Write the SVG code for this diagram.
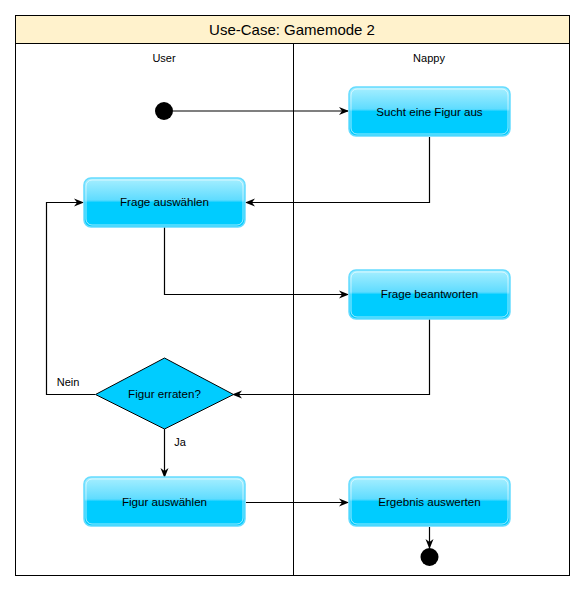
<svg xmlns="http://www.w3.org/2000/svg" width="584" height="591" viewBox="0 0 584 591">
<defs>
<linearGradient id="glass" x1="0" y1="0" x2="0" y2="1">
<stop offset="0" stop-color="#a8efff"/>
<stop offset="0.45" stop-color="#5fdcff"/>
<stop offset="0.5" stop-color="#00ccff"/>
<stop offset="1" stop-color="#00ccff"/>
</linearGradient>
<marker id="arr" markerWidth="10" markerHeight="10" refX="9" refY="5" orient="auto" markerUnits="userSpaceOnUse">
<path d="M0,1 L10,5 L0,9 L3,5 Z" fill="#000"/>
</marker>
<style>
text{font-family:"Liberation Sans",Arial,sans-serif;fill:#000}
.act rect.o{fill:url(#glass);stroke:#66dcff;stroke-width:1.5}
.act rect.i{fill:none;stroke:#ffffff;stroke-opacity:0.6;stroke-width:1}
.lbl{font-size:11.6px;text-anchor:middle}
.edge{fill:none;stroke:#000;stroke-width:1.2}
</style>
</defs>
<rect width="584" height="591" fill="#fff"/>
<g id="pool">
<rect x="15.5" y="15.5" width="554" height="560" fill="#fff" stroke="#000"/>
<rect x="15.5" y="15.5" width="554" height="28" fill="#fff2cc" stroke="#000"/>
<text x="292" y="35" font-size="15" text-anchor="middle">Use-Case: Gamemode 2</text>
<line x1="293.5" y1="43.5" x2="293.5" y2="575.5" stroke="#000"/>
<text x="164" y="62" font-size="11" text-anchor="middle">User</text>
<text x="429" y="62" font-size="11" text-anchor="middle">Nappy</text>
</g>
<g id="edges">
<path class="edge" d="M173,111 H348" marker-end="url(#arr)"/>
<path class="edge" d="M429.5,137 V202.5 H246" marker-end="url(#arr)"/>
<path class="edge" d="M164.5,227 V294.5 H348" marker-end="url(#arr)"/>
<path class="edge" d="M429.5,319 V394.5 H233" marker-end="url(#arr)"/>
<path class="edge" d="M95,394.5 H46.5 V202.5 H83" marker-end="url(#arr)"/>
<path class="edge" d="M164.5,429 V477" marker-end="url(#arr)"/>
<path class="edge" d="M246,502.5 H348" marker-end="url(#arr)"/>
<path class="edge" d="M429.5,527 V548" marker-end="url(#arr)"/>
<text x="68" y="386" font-size="11" text-anchor="middle">Nein</text>
<text x="180" y="446" font-size="11" text-anchor="middle">Ja</text>
</g>
<g id="start"><circle cx="164" cy="111" r="9" fill="#000"/></g>
<g id="sucht" class="act">
<rect class="o" x="349" y="87" width="161" height="49" rx="7"/>
<rect class="i" x="351" y="89" width="157" height="45" rx="6"/>
<text x="429.5" y="116" class="lbl">Sucht eine Figur aus</text>
</g>
<g id="frage-auswaehlen" class="act">
<rect class="o" x="84" y="178" width="161" height="49" rx="7"/>
<rect class="i" x="86" y="180" width="157" height="45" rx="6"/>
<text x="164.5" y="206" class="lbl">Frage auswählen</text>
</g>
<g id="frage-beantworten" class="act">
<rect class="o" x="349" y="270" width="161" height="49" rx="7"/>
<rect class="i" x="351" y="272" width="157" height="45" rx="6"/>
<text x="429.5" y="298" class="lbl">Frage beantworten</text>
</g>
<g id="figur-erraten">
<path d="M164.5,358 L233.5,394.5 L164.5,429 L95.5,394.5 Z" fill="#00ccff" stroke="#000"/>
<text x="164.5" y="398" class="lbl">Figur erraten?</text>
</g>
<g id="figur-auswaehlen" class="act">
<rect class="o" x="84" y="477" width="161" height="49" rx="7"/>
<rect class="i" x="86" y="479" width="157" height="45" rx="6"/>
<text x="164.5" y="506" class="lbl">Figur auswählen</text>
</g>
<g id="ergebnis" class="act">
<rect class="o" x="349" y="477" width="161" height="49" rx="7"/>
<rect class="i" x="351" y="479" width="157" height="45" rx="6"/>
<text x="429.5" y="506" class="lbl">Ergebnis auswerten</text>
</g>
<g id="end"><circle cx="429.5" cy="557" r="9" fill="#000"/></g>
</svg>
